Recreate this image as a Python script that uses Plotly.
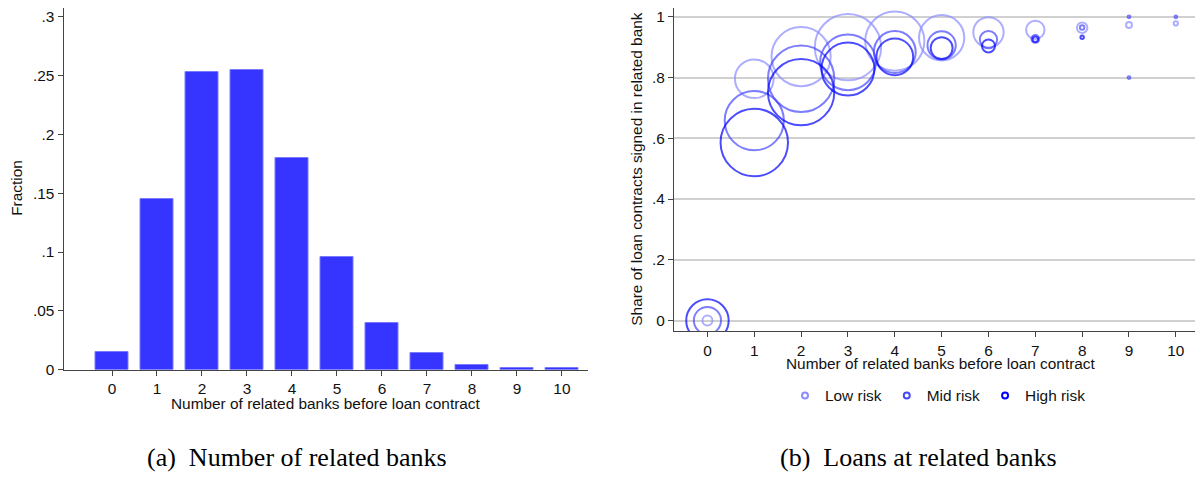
import plotly.graph_objects as go

# (a) histogram of related banks
banks = list(range(11))
fraction = [0.015, 0.145, 0.253, 0.255, 0.180, 0.096, 0.040, 0.014, 0.004, 0.0015, 0.001]

# (b) share of loans signed in related bank, by risk group
# weights ~ number of loans in the cell (bubble area)
low_x = list(range(11))
low_share = [0.0, 0.796, 0.869, 0.900, 0.920, 0.931, 0.949, 0.957, 0.964, 0.973, 0.978]
low_w = [10, 150, 350, 440, 350, 205, 92, 34, 11, 3.5, 1.8]

mid_x = list(range(11)) + [9]
mid_share = [0.0, 0.658, 0.796, 0.850, 0.884, 0.906, 0.925, 0.927, 0.965, 1.0, 1.0, 0.8]
mid_w = [74, 350, 440, 310, 175, 80, 30, 6, 2, 0.8, 0.8, 0.8]

high_x = list(range(9))
high_share = [0.0, 0.586, 0.752, 0.828, 0.868, 0.897, 0.904, 0.926, 0.933]
high_w = [180, 455, 440, 280, 135, 48, 17, 3, 1.2]

y_ticks_a = [0, 0.05, 0.1, 0.15, 0.2, 0.25, 0.3]
y_text_a = ["0", ".05", ".1", ".15", ".2", ".25", ".3"]
y_ticks_b = [0, 0.2, 0.4, 0.6, 0.8, 1.0]
y_text_b = ["0", ".2", ".4", ".6", ".8", "1"]

# page body has an 8px margin all round, keep the page inside the window
PAD = 8
W, H = 1203 - PAD, 480 - 2 * PAD
FONT = "Liberation Sans, Arial, Helvetica, sans-serif"
FS = 15.4
AXIS = "#444444"


def px(x):
    # window pixel -> paper x
    return (x - PAD) / W


def py(y):
    # window pixel -> paper y
    return (H - (y - PAD)) / H


fig = go.Figure()

fig.add_trace(
    go.Bar(
        x=banks,
        y=fraction,
        width=0.727,
        marker={"color": "#3535FF", "line": {"color": "#7A7AFF", "width": 1}},
        showlegend=False,
        xaxis="x",
        yaxis="y",
    )
)

series = [
    ("Low risk", low_x, low_share, low_w, "#8C8CFF"),
    ("Mid risk", mid_x, mid_share, mid_w, "#4646FF"),
    ("High risk", high_x, high_share, high_w, "#0000FF"),
]
for name, xs, ys, ws, col in series:
    # bubbles
    fig.add_trace(
        go.Scatter(
            x=xs,
            y=ys,
            mode="markers",
            marker={
                "symbol": "circle-open",
                "size": ws,
                "sizemode": "area",
                "sizeref": 0.2,
                "color": col,
                "line": {"width": 2, "color": col},
            },
            showlegend=False,
            xaxis="x2",
            yaxis="y2",
        )
    )
    # legend entry with small fixed marker
    fig.add_trace(
        go.Scatter(
            x=[None],
            y=[None],
            mode="markers",
            name=name,
            marker={"symbol": "circle-open", "size": 6, "color": col,
                    "line": {"width": 2, "color": col}},
            xaxis="x2",
            yaxis="y2",
        )
    )

common_x = dict(
    tickvals=banks,
    ticks="outside",
    ticklen=5,
    tickcolor=AXIS,
    showline=True,
    linecolor=AXIS,
    linewidth=1,
    showgrid=False,
    zeroline=False,
    tickfont={"size": FS, "color": "#111"},
)

fig.update_layout(
    width=W,
    height=H,
    margin={"l": 0, "r": 0, "t": 0, "b": 0},
    paper_bgcolor="white",
    plot_bgcolor="white",
    font={"family": FONT, "size": FS, "color": "#111"},
    xaxis=dict(common_x, domain=[px(63.5), px(588)], range=[-1.078, 10.58]),
    yaxis=dict(
        domain=[py(376), 1.0],
        range=[0, 0.3075],
        tickvals=y_ticks_a,
        ticktext=y_text_a,
        ticks="outside",
        ticklen=5,
        tickcolor=AXIS,
        showline=True,
        linecolor=AXIS,
        showgrid=False,
        zeroline=False,
        tickfont={"size": FS, "color": "#111"},
    ),
    xaxis2=dict(common_x, domain=[px(674), 1.0], range=[-0.714, 10.58], anchor="y2"),
    yaxis2=dict(
        domain=[py(337), 1.0],
        range=[-0.0356, 1.029],
        tickvals=y_ticks_b,
        ticktext=y_text_b,
        ticks="outside",
        ticklen=5,
        tickcolor=AXIS,
        showline=True,
        linecolor=AXIS,
        showgrid=True,
        gridcolor="#D0D0D0",
        gridwidth=1.5,
        zeroline=False,
        anchor="x2",
        tickfont={"size": FS, "color": "#111"},
    ),
    legend={
        "orientation": "h",
        "x": px(938),
        "xanchor": "center",
        "y": py(402.7),
        "yanchor": "middle",
        "font": {"size": FS},
        "bgcolor": "rgba(0,0,0,0)",
    },
    bargap=0,
)

notes = [
    ("Fraction", px(17), py(191), -90, FONT, FS),
    ("Number of related banks before loan contract", px(325.5), py(410.7), 0, FONT, FS),
    ("Share of loan contracts signed in related bank", px(636.5), py(172), -90, FONT, FS),
    ("Number of related banks before loan contract", px(941.3), py(370), 0, FONT, FS),
    ("(a)  Number of related banks", px(296.7), py(465), 0, "Liberation Serif, serif", 26),
    ("(b)  Loans at related banks", px(918), py(465), 0, "Liberation Serif, serif", 26),
]
for text, x, y, ang, fam, size in notes:
    fig.add_annotation(
        text=text,
        x=x,
        y=y,
        xref="paper",
        yref="paper",
        xanchor="center",
        yanchor="middle",
        textangle=ang,
        showarrow=False,
        font={"family": fam, "size": size, "color": "#111" if fam == FONT else "black"},
    )

fig.write_html("out.html")
